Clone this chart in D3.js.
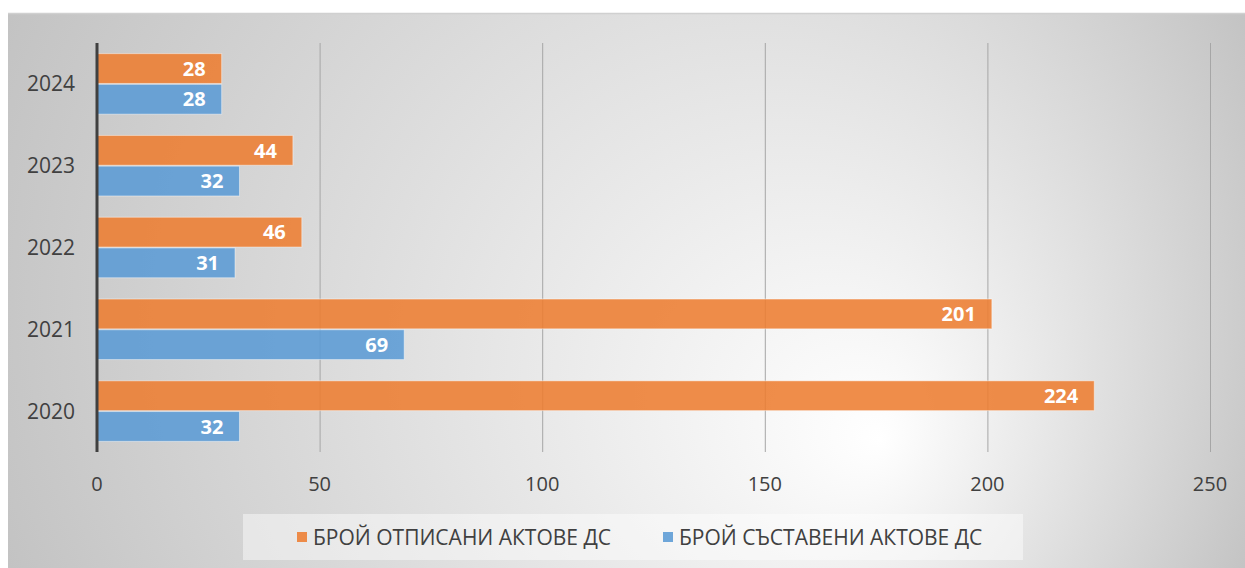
<!DOCTYPE html>
<html>
<head>
<meta charset="utf-8">
<script src="https://cdn.jsdelivr.net/npm/d3@7"></script>
<style>
  html, body { margin: 0; padding: 0; background: #fff; }
  svg { display: block; font-family: "Open Sans", "Noto Sans", sans-serif; }
</style>
</head>
<body>
<div id="chart"></div>
<script>
// Years, top to bottom as drawn
const years = ['2024', '2023', '2022', '2021', '2020'];
// Series values per year (same order as years)
const writtenOff = [28, 44, 46, 201, 224];   // БРОЙ ОТПИСАНИ АКТОВЕ ДС
const drawnUp = [28, 32, 31, 69, 32];        // БРОЙ СЪСТАВЕНИ АКТОВЕ ДС
const seriesNames = ['БРОЙ ОТПИСАНИ АКТОВЕ ДС', 'БРОЙ СЪСТАВЕНИ АКТОВЕ ДС'];
const xTicks = [0, 50, 100, 150, 200, 250];

const seriesColors = ['#ED7D31', '#5B9BD5'];

const width = 1245;
const height = 568;
const plotTop = 43;
const plotBottom = 452;
const plotLeft = 97;
const plotRight = 1210;

const svg = d3.select('#chart')
    .append('svg')
    .attr('width', width)
    .attr('height', height);

// Background gradient of the chart area
const defs = svg.append('defs');
const grad = defs.append('radialGradient')
    .attr('id', 'bg')
    .attr('gradientUnits', 'userSpaceOnUse')
    .attr('cx', 626).attr('cy', 290).attr('r', 690)
    .attr('fx', 880).attr('fy', 440);
grad.append('stop').attr('offset', '0%').attr('stop-color', '#ffffff');
grad.append('stop').attr('offset', '100%').attr('stop-color', '#c2c2c2');

svg.append('rect')
    .attr('x', 8).attr('y', 13)
    .attr('width', width - 8).attr('height', height - 13)
    .attr('fill', 'url(#bg)');

svg.append('line')
    .attr('x1', 8).attr('x2', width)
    .attr('y1', 13.5).attr('y2', 13.5)
    .attr('stroke', '#d0d0d0')
    .attr('stroke-width', 1.5);

const x = d3.scaleLinear()
    .domain([0, 250])
    .range([plotLeft, plotRight]);

const y = d3.scaleBand()
    .domain(years)
    .range([plotTop, plotBottom])
    .paddingInner(0.26)
    .paddingOuter(0.13);

const ySub = d3.scaleBand()
    .domain([0, 1])
    .range([0, y.bandwidth()])
    .paddingInner(0.03);

// Gridlines
svg.append('g')
    .selectAll('line')
    .data(xTicks.filter(d => d > 0))
    .join('line')
    .attr('x1', d => x(d) + 0.5)
    .attr('x2', d => x(d) + 0.5)
    .attr('y1', plotTop)
    .attr('y2', plotBottom)
    .attr('stroke', '#a6a6a6')
    .attr('stroke-width', 1);

// Bars
const rows = years.map((yr, i) => ({ year: yr, values: [writtenOff[i], drawnUp[i]] }));

const group = svg.append('g')
    .selectAll('g')
    .data(rows)
    .join('g')
    .attr('transform', d => `translate(0,${y(d.year)})`);

const bar = group.selectAll('g')
    .data(d => d.values.map((v, s) => ({ v, s })))
    .join('g');

bar.append('rect')
    .attr('x', x(0))
    .attr('y', d => ySub(d.s))
    .attr('width', d => x(d.v) - x(0))
    .attr('height', ySub.bandwidth())
    .attr('fill', d => seriesColors[d.s])
    .attr('fill-opacity', 0.88)
    .attr('stroke', '#ffffff')
    .attr('stroke-opacity', 0.45)
    .attr('stroke-width', 1);

bar.append('text')
    .attr('x', d => x(d.v) - 16)
    .attr('y', d => ySub(d.s) + ySub.bandwidth() / 2)
    .attr('dy', '0.36em')
    .attr('text-anchor', 'end')
    .attr('font-size', '20px')
    .attr('font-weight', 'bold')
    .attr('fill', '#ffffff')
    .text(d => d.v);

// Vertical axis line
svg.append('line')
    .attr('x1', x(0)).attr('x2', x(0))
    .attr('y1', plotTop).attr('y2', plotBottom)
    .attr('stroke', '#404040')
    .attr('stroke-width', 3);

// Category labels
svg.append('g')
    .selectAll('text')
    .data(years)
    .join('text')
    .attr('x', 75)
    .attr('y', d => y(d) + y.bandwidth() / 2)
    .attr('dy', '0.36em')
    .attr('text-anchor', 'end')
    .attr('font-size', '21px')
    .attr('fill', '#404040')
    .text(d => d);

// X tick labels
svg.append('g')
    .selectAll('text')
    .data(xTicks)
    .join('text')
    .attr('x', d => x(d))
    .attr('y', 491)
    .attr('text-anchor', 'middle')
    .attr('font-size', '20px')
    .attr('fill', '#404040')
    .text(d => d);

// Legend
const legend = svg.append('g');
legend.append('rect')
    .attr('x', 243).attr('y', 514)
    .attr('width', 780).attr('height', 46)
    .attr('fill', '#ffffff')
    .attr('fill-opacity', 0.45);

const legendX = [297, 663];
const item = legend.selectAll('g')
    .data(seriesNames)
    .join('g')
    .attr('transform', (d, i) => `translate(${legendX[i]},537)`);

item.append('rect')
    .attr('x', 0).attr('y', -5)
    .attr('width', 10).attr('height', 10)
    .attr('fill', (d, i) => seriesColors[i])
    .attr('fill-opacity', 0.88);

item.append('text')
    .attr('x', 16)
    .attr('dy', '0.36em')
    .attr('font-size', '21px')
    .attr('fill', '#404040')
    .text(d => d);
</script>
</body>
</html>
